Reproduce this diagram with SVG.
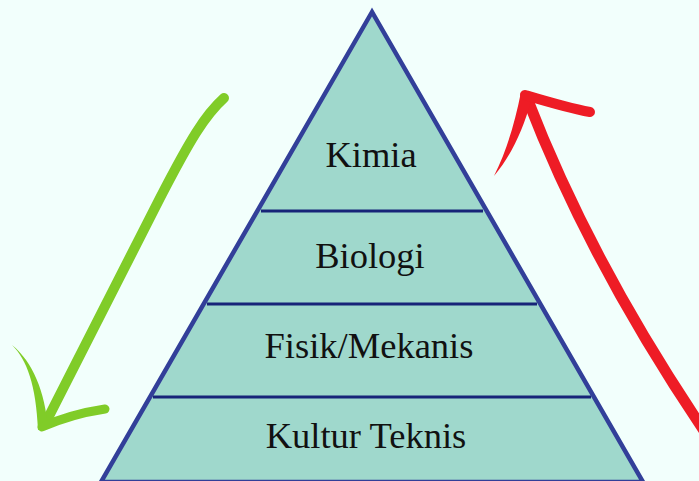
<svg xmlns="http://www.w3.org/2000/svg" width="699" height="481" viewBox="0 0 699 481">
<style>
.lbl{font-family:"Liberation Serif","Times New Roman",serif;font-size:36.5px;fill:#111;text-anchor:middle}
.div{stroke:#172478;stroke-width:3}
.g{stroke:#80cc28;fill:none;stroke-linecap:round;stroke-linejoin:round}
.r{stroke:#ee1c25;fill:none;stroke-linecap:round;stroke-linejoin:round}
</style>
<rect width="699" height="481" fill="#f2fffc"/>
<g id="pyramid">
<polygon points="372,12 101,482 643,482" fill="#9fd8cc" stroke="#323f99" stroke-width="4.5" stroke-linejoin="miter"/>
</g>
<g id="dividers">
<line class="div" x1="261" y1="211" x2="483" y2="211"/>
<line class="div" x1="207" y1="304" x2="537" y2="304"/>
<line class="div" x1="153" y1="397" x2="591" y2="397"/>
</g>
<g id="kimia"><text class="lbl" x="371" y="167">Kimia</text></g>
<g id="biologi"><text class="lbl" x="370" y="268">Biologi</text></g>
<g id="fisik"><text class="lbl" x="369" y="358">Fisik/Mekanis</text></g>
<g id="kultur"><text class="lbl" x="366" y="448">Kultur Teknis</text></g>
<g id="connectors">
<g id="green-arrow">
<path class="g" stroke-width="10" d="M224,98 C 205,115 190,140 160,198 L 45,424"/>
<path d="M12,345 C 27,360 36,385 38,430 L 48,428 C 45,392 33,362 12,345 Z" fill="#80cc28"/>
<path class="g" stroke-width="9" d="M42,427 C 62,418 85,412 105,409"/>
</g>
<g id="red-arrow">
<path class="r" stroke-width="11" d="M705,432 Q 590,262 527,98"/>
<path d="M521,92 C 515,122 507,150 494,176 C 511,156 523,130 531,101 Z" fill="#ee1c25"/>
<path class="r" stroke-width="10" d="M525,95 C 545,101 568,108 590,112"/>
</g>
</g>
</svg>
